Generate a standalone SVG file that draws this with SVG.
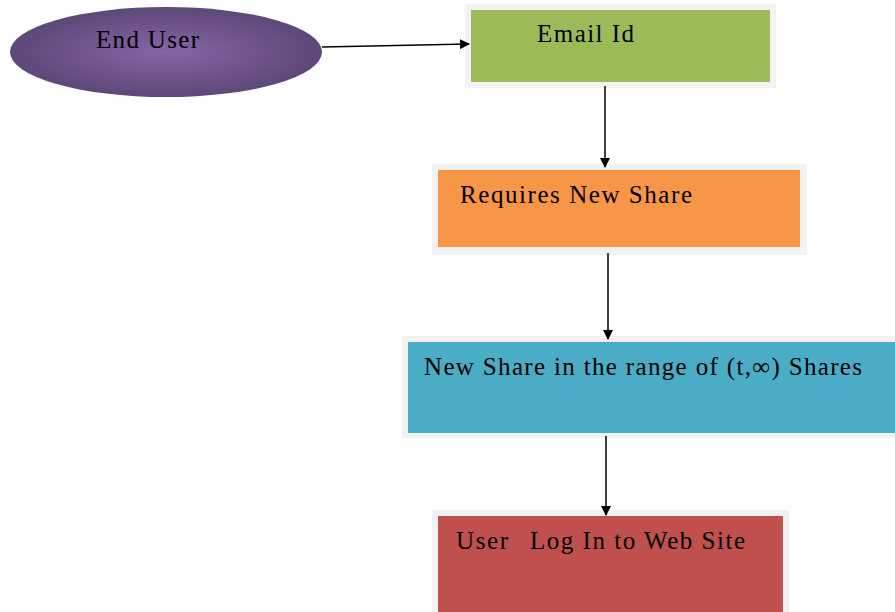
<svg xmlns="http://www.w3.org/2000/svg" width="895" height="612" viewBox="0 0 895 612">
<style>
.lbl{font-family:'Liberation Serif','Times New Roman',serif;font-size:25px;fill:#000}
.frame{fill:#f2f2f2}
.conn{stroke:#000;stroke-width:1.5;fill:none;marker-end:url(#ah)}
</style>
<defs>
<marker id="ah" markerWidth="10" markerHeight="10" refX="9" refY="5" orient="auto" markerUnits="userSpaceOnUse">
<path d="M0,0 L10,5 L0,10 Z" fill="#000"/>
</marker>
<radialGradient id="eg" cx="50%" cy="50%" r="50%">
<stop offset="0" stop-color="#8566a6"/>
<stop offset="1" stop-color="#5d4879"/>
</radialGradient>
</defs>
<rect width="895" height="612" fill="#fff"/>
<g id="end-user">
<ellipse cx="166" cy="52" rx="156" ry="45" fill="url(#eg)"/>
<text class="lbl" x="96" y="48" textLength="103" lengthAdjust="spacing">End User</text>
</g>
<g id="email-id">
<rect class="frame" x="465" y="4" width="311" height="84"/>
<rect x="471" y="10" width="299" height="72" fill="#9bbb59"/>
<text class="lbl" x="537" y="42" textLength="97" lengthAdjust="spacing">Email Id</text>
</g>
<g id="requires-new-share">
<rect class="frame" x="432" y="164" width="375" height="91"/>
<rect x="438" y="170" width="362" height="77" fill="#f79646"/>
<text class="lbl" x="460" y="203" textLength="232" lengthAdjust="spacing">Requires New Share</text>
</g>
<g id="new-share-range">
<rect class="frame" x="402" y="336" width="493" height="102"/>
<rect x="408" y="342" width="487" height="91" fill="#4bacc6"/>
<text class="lbl" x="424" y="375" textLength="438" lengthAdjust="spacing">New Share in the range of (t,∞) Shares</text>
</g>
<g id="user-login">
<rect class="frame" x="432" y="510" width="357" height="102"/>
<rect x="438" y="516" width="345" height="96" fill="#c0504d"/>
<text class="lbl" x="456" y="549" textLength="52" lengthAdjust="spacing">User</text>
<text class="lbl" x="530" y="549" textLength="215" lengthAdjust="spacing">Log In to Web Site</text>
</g>
<g id="connectors">
<path class="conn" d="M322,47 L469,44"/>
<path class="conn" d="M605,86 L605,167"/>
<path class="conn" d="M608,253 L608,339"/>
<path class="conn" d="M606,436 L606,515"/>
</g>
</svg>
